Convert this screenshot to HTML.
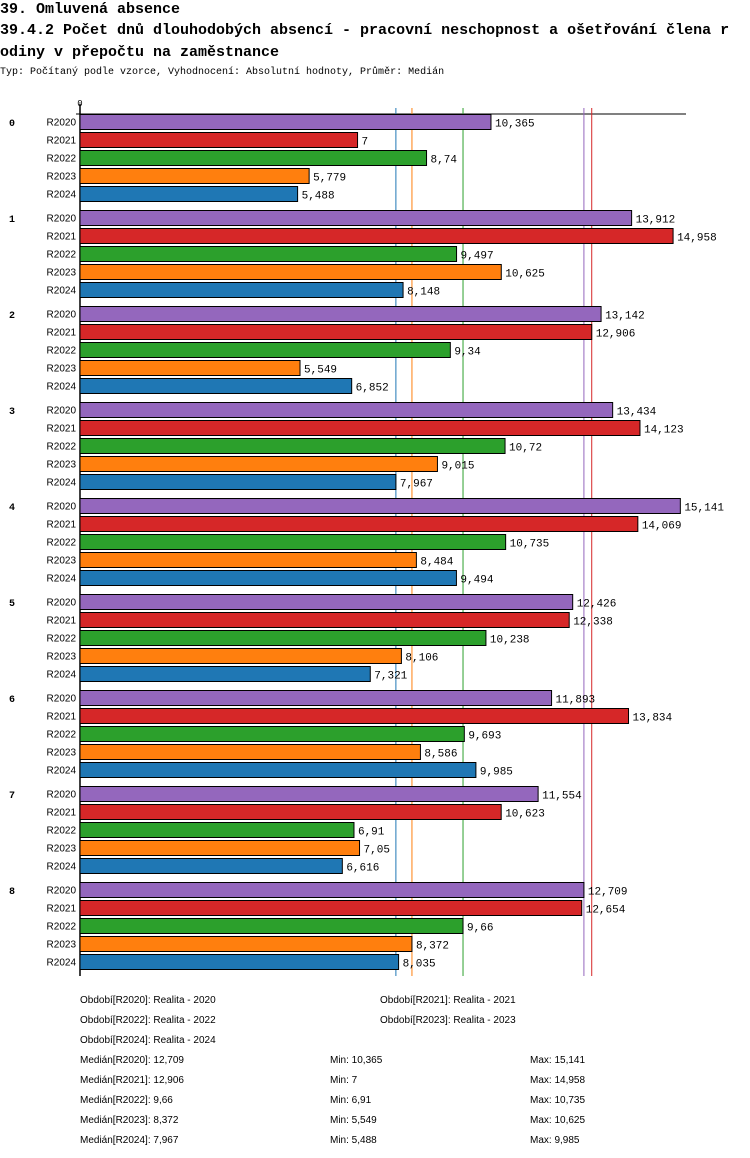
<!DOCTYPE html>
<html><head><meta charset="utf-8">
<style>
body{margin:0;background:#fff;width:750px;height:1158px;overflow:hidden}
.t{font-family:"Liberation Mono",monospace;position:absolute;left:0;white-space:nowrap;color:#000}
</style></head><body>
<div class="t" style="top:0px;font-size:15px;font-weight:bold;line-height:20px">39. Omluvená absence</div>
<div class="t" style="top:20px;font-size:15px;font-weight:bold;line-height:22px;width:750px;white-space:normal">39.4.2 Počet dnů dlouhodobých absencí - pracovní neschopnost a ošetřování člena r<br>odiny v přepočtu na zaměstnance</div>
<div class="t" style="top:66px;font-size:10px;line-height:14px">Typ: Počítaný podle vzorce, Vyhodnocení: Absolutní hodnoty, Průměr: Medián</div>
<svg id="chart" width="750" height="1158" style="position:absolute;left:0;top:0"></svg>
<script>
const categories=["0","1","2","3","4","5","6","7","8"];
const series=["R2020","R2021","R2022","R2023","R2024"];
const seriesLabels=["Realita - 2020","Realita - 2021","Realita - 2022","Realita - 2023","Realita - 2024"];
const colors=["#9467bd","#d62728","#2ca02c","#ff7f0e","#1f77b4"];
const r2020=[10.365,13.912,13.142,13.434,15.141,12.426,11.893,11.554,12.709];
const r2021=[7,14.958,12.906,14.123,14.069,12.338,13.834,10.623,12.654];
const r2022=[8.74,9.497,9.34,10.72,10.735,10.238,9.693,6.91,9.66];
const r2023=[5.779,10.625,5.549,9.015,8.484,8.106,8.586,7.05,8.372];
const r2024=[5.488,8.148,6.852,7.967,9.494,7.321,9.985,6.616,8.035];
const values=[r2020,r2021,r2022,r2023,r2024];

const svg=document.getElementById('chart');
const NS="http://www.w3.org/2000/svg";
const X0=80, PX=39.65, TOP=114, ROW=18, GROUP=96, BH=15;
const x=v=>X0+v*PX;
const fmt=v=>String(v).replace('.',',');
function mk(tag,attrs,text){const e=document.createElementNS(NS,tag);for(const k in attrs)e.setAttribute(k,attrs[k]);if(text!==undefined)e.textContent=text;svg.appendChild(e);return e;}
const median=a=>{const s=[...a].sort((p,q)=>p-q);return s[Math.floor(s.length/2)];};
const bottom=TOP+categories.length*GROUP-2;

let e=mk('line',{x1:X0,y1:104,x2:X0,y2:bottom,stroke:'#000','stroke-width':1.5});


e=mk('line',{x1:76,y1:TOP,x2:686,y2:TOP,stroke:'#000','stroke-width':1});


e=mk('text',{x:X0,y:106,'font-family':'Liberation Mono, monospace','font-size':9,'text-anchor':'middle'},'0');



values.forEach((arr,si)=>{
  const m=median(arr);
  const l=mk('line',{x1:x(m),y1:108,x2:x(m),y2:bottom,stroke:colors[si],'stroke-width':1});
  
  
});

categories.forEach((c,ci)=>{
  const gy=TOP+ci*GROUP;
  const t=mk('text',{x:12,y:gy+12,'font-family':'Liberation Mono, monospace','font-size':10,'font-weight':'bold','text-anchor':'middle'},c);
  
  
  series.forEach((s,si)=>{
    const y=gy+si*ROW;
    const v=values[si][ci];
    const lb=mk('text',{x:76,y:y+11.5,'font-family':'Liberation Sans, sans-serif','font-size':10,'text-anchor':'end'},s);
    
    
    const r=mk('rect',{x:X0,y:y+0.5,width:x(v)-X0,height:BH,fill:colors[si],stroke:'#000','stroke-width':1});
    
    
    const vt=mk('text',{x:x(v)+4,y:y+12.5,'font-family':'Liberation Mono, monospace','font-size':11},fmt(v));
    
    
  });
});

const lf='Liberation Sans, sans-serif';
const legPos=[[80,1003],[380,1003],[80,1023],[380,1023],[80,1043]];
series.forEach((s,si)=>{
  const t=mk('text',{x:legPos[si][0],y:legPos[si][1],'font-family':lf,'font-size':10},'Období['+s+']: '+seriesLabels[si]);
  
  
});
values.forEach((arr,si)=>{
  const y=1063+si*20;
  let t=mk('text',{x:80,y:y,'font-family':lf,'font-size':10},'Medián['+series[si]+']: '+fmt(median(arr)));
  
  
  t=mk('text',{x:330,y:y,'font-family':lf,'font-size':10},'Min: '+fmt(Math.min(...arr)));
  
  
  t=mk('text',{x:530,y:y,'font-family':lf,'font-size':10},'Max: '+fmt(Math.max(...arr)));
  
  
});
</script>
</body></html>
